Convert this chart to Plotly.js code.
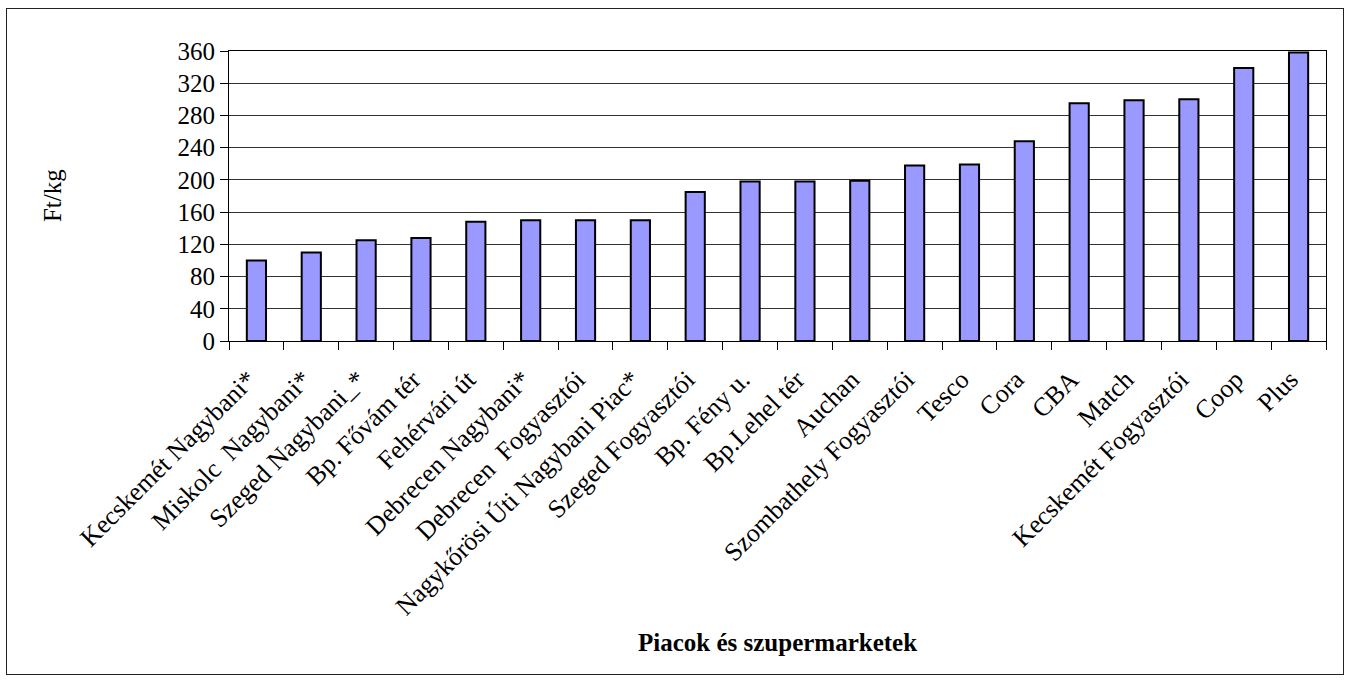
<!DOCTYPE html>
<html>
<head>
<meta charset="utf-8">
<script src="https://cdn.plot.ly/plotly-3.0.1.min.js"></script>
<style>
html,body{margin:0;padding:0;background:#fff;}
#wrap{position:relative;width:1350px;height:680px;}
#chart{width:1350px;height:680px;}
#frame{position:absolute;left:6px;top:8px;width:1336px;height:665px;border:1.5px solid #222;pointer-events:none;}
</style>
</head>
<body>
<div id="wrap"><div id="chart"></div><div id="frame"></div></div>
<script>
const categories = [
  "Kecskemét Nagybani*", "Miskolc  Nagybani*", "Szeged Nagybani_*", "Bp. Fővám tér",
  "Fehérvári út", "Debrecen Nagybani*", "Debrecen  Fogyasztói", "Nagykőrösi Úti Nagybani Piac*",
  "Szeged Fogyasztói", "Bp. Fény u.", "Bp.Lehel tér", "Auchan",
  "Szombathely Fogyasztói", "Tesco", "Cora", "CBA",
  "Match", "Kecskemét Fogyasztói", "Coop", "Plus"
];
const prices = [100, 110, 125, 128, 148, 150, 150, 150, 185, 198, 198, 199, 218, 219, 248, 295, 299, 300, 339, 358];
const yTicks = [0, 40, 80, 120, 160, 200, 240, 280, 320, 360];
const xTitle = "Piacok és szupermarketek";
const yTitle = "Ft/kg";

const serif = "'Liberation Serif', 'Times New Roman', Times, serif";

const trace = {
  type: "bar",
  x: categories,
  y: prices,
  marker: {color: "#9999FF", line: {color: "#000", width: 2}},
  hoverinfo: "x+y"
};

const layout = {
  width: 1350, height: 680,
  margin: {l: 229, r: 24, t: 51, b: 339},
  paper_bgcolor: "#fff", plot_bgcolor: "#fff",
  showlegend: false,
  bargap: 0.65,
  font: {family: serif, color: "#000"},
  xaxis: {
    type: "category",
    tickangle: -45,
    tickfont: {family: serif, size: 26, color: "#000"},
    ticklabelshift: -8,
    ticklabelstandoff: 12,
    showline: true, linecolor: "#000", linewidth: 1, mirror: true,
    ticks: "outside", tickson: "boundaries", ticklen: 8, tickcolor: "#000",
    showgrid: false, automargin: false, fixedrange: true
  },
  yaxis: {
    range: [0, 360],
    tickmode: "array",
    tickvals: yTicks,
    tickfont: {family: serif, size: 25, color: "#000"},
    showline: true, linecolor: "#000", linewidth: 1, mirror: true,
    ticks: "outside", ticklen: 8, tickcolor: "#000",
    showgrid: true, gridcolor: "#333", gridwidth: 1,
    zeroline: false, automargin: false, fixedrange: true
  },
  annotations: [
    {text: "<b>" + xTitle + "</b>", xref: "paper", yref: "paper", x: 0.5, y: -1.041,
     xanchor: "center", yanchor: "middle", showarrow: false,
     font: {family: serif, size: 25, color: "#000"}},
    {text: yTitle, xref: "paper", yref: "paper", x: -0.1613, y: 0.5,
     xanchor: "center", yanchor: "middle", textangle: -90, showarrow: false,
     font: {family: serif, size: 25, color: "#000"}}
  ]
};

Plotly.newPlot("chart", [trace], layout, {displayModeBar: false, staticPlot: true});
</script>
</body>
</html>
